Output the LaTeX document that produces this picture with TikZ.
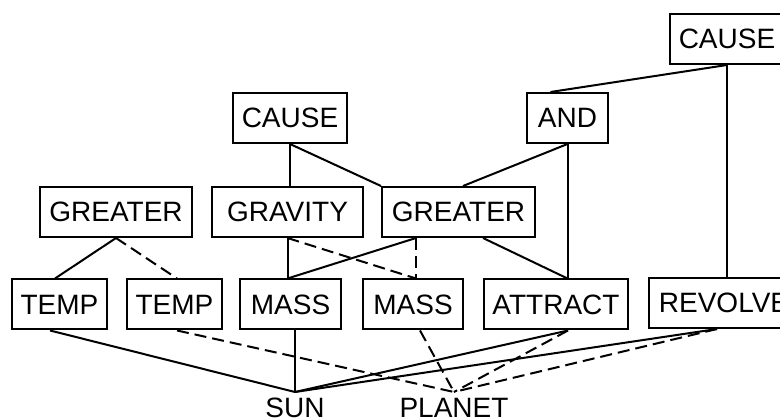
\documentclass[tikz,border=0pt]{standalone}
\usepackage{fontspec}
\setmainfont{Liberation Sans}
\usetikzlibrary{positioning}
\tikzset{
  box/.style={draw, line width=2pt, minimum height=50pt, inner sep=0pt,
              font=\fontsize{28}{33}\selectfont},
  lbl/.style={font=\fontsize{28}{33}\selectfont, inner sep=6pt, anchor=north},
  link/.style={line width=2pt},
  dlink/.style={link, dash pattern=on 12pt off 6pt}
}

\begin{document}
\begin{tikzpicture}[x=1pt, y=-1pt]
\useasboundingbox (0,0) rectangle (780,419);
\clip (0,0) rectangle (780,419);
% Level 1: top relation
\node[box, minimum width=114pt] (topcause) at (727,39) {CAUSE};
% Level 2
\node[box, minimum width=114pt] (cause) at (290,118) {CAUSE};
\node[box, minimum width=81pt] (and) at (567.5,118) {AND};
% Level 3
\node[box, minimum width=152pt] (gtl) at (116,212) {GREATER};
\node[box, minimum width=151pt] (grav) at (287.5,212) {GRAVITY};
\node[box, minimum width=153pt] (gtm) at (458.5,212) {GREATER};
% Level 4: attributes and functions
\node[box, minimum width=95pt] (templ) at (59.5,304.5) {TEMP};
\node[box, minimum width=95pt] (tempr) at (174.5,304.5) {TEMP};
\node[box, minimum width=101pt] (massl) at (290.5,304.5) {MASS};
\node[box, minimum width=100pt] (massr) at (413,304.5) {MASS};
\node[box, minimum width=144pt] (attract) at (556,304.5) {ATTRACT};
\node[box, minimum width=150pt] (revolve) at (724,303) {REVOLVE};
% Objects
\node[lbl] (sun) at (295,392) {SUN};
\node[lbl] (planet) at (454,392) {PLANET};
% upper links
\draw[link] (topcause.south) -- ([xshift=-17pt]and.north);
\draw[link] (topcause.south) -- (topcause.south |- revolve.north);
\draw[link] (cause.south) -- (cause.south |- grav.north);
\draw[link] (cause.south) -- (gtm.north west);
\draw[link] (and.south) -- (and.south |- attract.north);
\draw[link] (and.south) -- ([xshift=4.5pt]gtm.north);
% middle links
\draw[link] (gtl.south) -- ([xshift=-4.5pt]templ.north);
\draw[dlink] (gtl.south) -- ([xshift=2.5pt]tempr.north);
\draw[link] (grav.south) -- (grav.south |- massl.north);
\draw[dlink] (grav.south) -- ([xshift=3pt]massr.north);
\draw[link] ([xshift=-42.5pt]gtm.south) -- (grav.south |- massl.north);
\draw[dlink] ([xshift=-42.5pt]gtm.south) -- ([xshift=3pt]massr.north);
\draw[link] ([xshift=24.5pt]gtm.south) -- (and.south |- attract.north);
% links to objects
\draw[link] ([xshift=-9.5pt]templ.south) -- (sun.north);
\draw[dlink] ([xshift=2.5pt]tempr.south) -- (planet.north);
\draw[link] ([xshift=4.5pt]massl.south) -- (sun.north);
\draw[dlink] ([xshift=7pt]massr.south) -- (planet.north);
\draw[link] ([xshift=12pt]attract.south) -- (sun.north);
\draw[dlink] ([xshift=12pt]attract.south) -- (planet.north);
\draw[link] ([xshift=-7pt]revolve.south) -- (sun.north);
\draw[dlink] ([xshift=-7pt]revolve.south) -- (planet.north);
\end{tikzpicture}
\end{document}
